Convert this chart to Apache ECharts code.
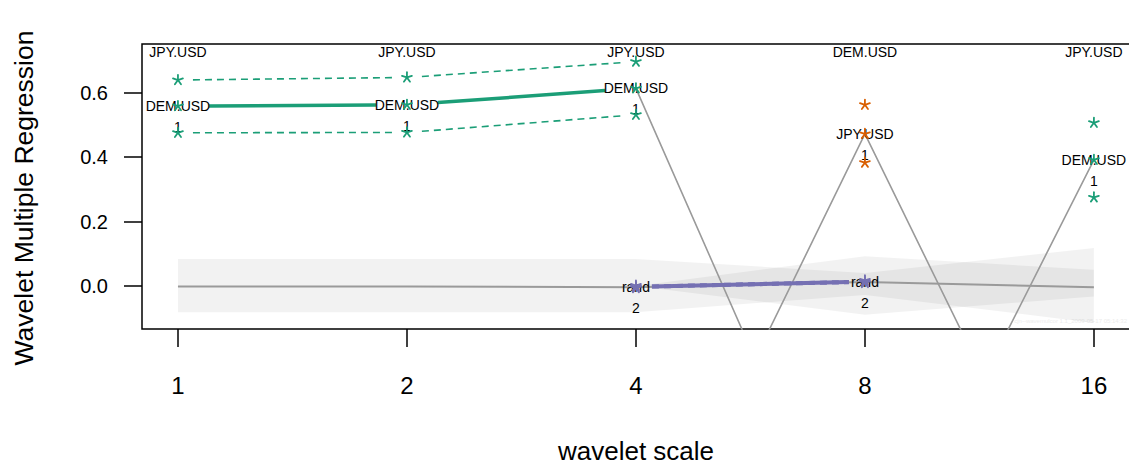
<!DOCTYPE html>
<html>
<head>
<meta charset="utf-8">
<script src="https://cdn.jsdelivr.net/npm/echarts@6/dist/echarts.min.js"></script>
<style>
html,body{margin:0;padding:0;background:#fff;}
#chart{width:1129px;height:465px;}
</style>
</head>
<body>
<div id="chart"></div>
<script>
// ---------- data ----------
const scales = [1, 2, 4, 8, 16];
const scaleLabels = ['1', '2', '4', '8', '16'];
const yTicks = [0, 0.2, 0.4, 0.6];
const xTitle = 'wavelet scale';
const yTitle = 'Wavelet Multiple Regression';

// top-of-plot labels per level
const topNames = ['JPY.USD', 'JPY.USD', 'JPY.USD', 'DEM.USD', 'JPY.USD'];

// first regressor (largest) per level
const est1Names = ['DEM.USD', 'DEM.USD', 'DEM.USD', 'JPY.USD', 'DEM.USD'];
const est1Rank = ['1', '1', '1', '1', '1'];
const est1 = [0.559, 0.563, 0.614, 0.4725, 0.392];
const upper1 = [0.640, 0.648, 0.697, 0.563, 0.507];
const lower1 = [0.476, 0.477, 0.532, 0.383, 0.275];

// second regressor (levels 4 and 8)
const est2Names = [null, null, 'rand', 'rand', null];
const est2Rank = [null, null, '2', '2', null];
const est2 = [null, null, -0.003, 0.013, null];
const upper2 = [null, null, 0.001, 0.017, null];
const lower2 = [null, null, -0.007, 0.009, null];

// grey reference line and bands
const greyMid = [-0.002, -0.002, -0.004, 0.012, -0.004];
const band1Upper = [0.084, 0.084, 0.084, 0.040, 0.118];
const band1Lower = [-0.082, -0.082, -0.082, -0.028, -0.115];
const band2Levels = [2, 3, 4];
const band2Upper = [0.0, 0.092, 0.05];
const band2Lower = [0.0, -0.09, -0.033];

// grey zig-zag path
const zigX = [2, 2.52, 3, 3.52, 4];
const zigY = [0.614, -0.227, 0.4725, -0.284, 0.392];

const varColors = { 'DEM.USD': '#1B9E77', 'JPY.USD': '#D95F02', 'rand': '#7570B3' };
// -----------------------------------------------

const FONT = "'Liberation Sans', Arial, Helvetica, sans-serif";
const lv = scales.map(s => Math.log2(s));
const Y_MIN = -0.134, Y_MAX = 0.752;

function segments(est, names) {
  const out = [];
  for (let i = 0; i + 1 < est.length; i++) {
    if (est[i] != null && est[i + 1] != null && names[i] === names[i + 1]) {
      out.push({ value: [lv[i], est[i], lv[i + 1], est[i + 1]], name: names[i] });
    }
  }
  return out;
}

function gapSeries(data, width, gap, dash, z) {
  return {
    type: 'custom', silent: true, z: z,
    encode: { x: [0, 2], y: [1, 3] },
    data: data,
    renderItem: function (params, api) {
      const a = api.coord([api.value(0), api.value(1)]);
      const b = api.coord([api.value(2), api.value(3)]);
      const dx = b[0] - a[0], dy = b[1] - a[1];
      const L = Math.sqrt(dx * dx + dy * dy);
      const ux = dx / L, uy = dy / L;
      const nm = data[params.dataIndex].name;
      return {
        type: 'line',
        shape: { x1: a[0] + ux * gap, y1: a[1] + uy * gap, x2: b[0] - ux * gap, y2: b[1] - uy * gap },
        style: { stroke: varColors[nm], lineWidth: width, lineDash: dash || null, lineCap: 'butt' }
      };
    }
  };
}

function starData() {
  const d = [];
  for (let i = 0; i < lv.length; i++) {
    [upper1[i], est1[i], lower1[i]].forEach(v => d.push({ value: [lv[i], v], c: varColors[est1Names[i]] }));
    if (est2[i] != null) {
      [upper2[i], est2[i], lower2[i]].forEach(v => d.push({ value: [lv[i], v], c: varColors[est2Names[i]] }));
    }
  }
  return d;
}
const stars = starData();
const ARMS = [-90, -18, 54, 126, 198].map(a => a * Math.PI / 180);

function bandSeries(levels, up, lo, z) {
  return {
    type: 'custom', silent: true, z: z,
    data: [[levels[0], up[0]]],
    renderItem: function (params, api) {
      const pts = [];
      for (let i = 0; i < levels.length; i++) pts.push(api.coord([levels[i], up[i]]));
      for (let i = levels.length - 1; i >= 0; i--) pts.push(api.coord([levels[i], lo[i]]));
      return { type: 'polygon', shape: { points: pts }, style: { fill: 'rgba(0,0,0,0.05)', stroke: null } };
    }
  };
}

const labelData = [];
for (let i = 0; i < lv.length; i++) {
  labelData.push({ value: [lv[i], est1[i]], name: est1Names[i], rank: est1Rank[i] });
  if (est2[i] != null) labelData.push({ value: [lv[i], est2[i]], name: est2Names[i], rank: est2Rank[i] });
}

const chart = echarts.init(document.getElementById('chart'), null, { renderer: 'svg' });
chart.setOption({
  animation: false,
  backgroundColor: '#fff',
  grid: { left: 142, top: 44, width: 989, height: 285, show: true, borderColor: '#000', borderWidth: 1.5,
    backgroundColor: 'transparent', containLabel: false, outerBoundsMode: 'none' },
  xAxis: {
    type: 'value', min: -0.157, max: 4.162,
    axisLine: { show: false, onZero: false },
    splitLine: { show: false },
    axisTick: { show: true, length: 18, lineStyle: { color: '#000', width: 1.5 }, customValues: lv },
    axisLabel: { fontSize: 24, fontFamily: FONT, color: '#000', margin: 44, customValues: lv,
      formatter: function (v) { const k = lv.indexOf(v); return k >= 0 ? scaleLabels[k] : ''; } }
  },
  yAxis: {
    type: 'value', min: Y_MIN, max: Y_MAX,
    axisLine: { show: false, onZero: false },
    splitLine: { show: false },
    axisTick: { show: true, length: 18, lineStyle: { color: '#000', width: 1.5 }, customValues: yTicks },
    axisLabel: { fontSize: 20, fontFamily: FONT, color: '#000', margin: 34, customValues: yTicks,
      formatter: function (v) { return v.toFixed(1); } }
  },
  graphic: [
    {
      type: 'text', x: 636, y: 451, silent: true,
      style: { text: xTitle, fontSize: 26, fontFamily: FONT, fill: '#000', align: 'center', verticalAlign: 'middle' }
    },
    {
      type: 'text', x: 24, y: 198, rotation: Math.PI / 2, silent: true,
      style: { text: yTitle, fontSize: 26.5, fontFamily: FONT, fill: '#000', align: 'center', verticalAlign: 'middle' }
    },
    {
      type: 'text', right: 2, top: 318, silent: true,
      style: { text: 'cjn--wavemulcor 1.1_2009-05-17 05:14:32', fontSize: 6, fontFamily: FONT, fill: '#ececec' }
    }
  ],
  series: [
    bandSeries(lv, band1Upper, band1Lower, 1),
    bandSeries(band2Levels, band2Upper, band2Lower, 1),
    {
      type: 'line', silent: true, z: 2, symbol: 'none', clip: true,
      data: lv.map((x, i) => [x, greyMid[i]]),
      lineStyle: { color: '#9a9a9a', width: 2 }
    },
    {
      type: 'line', silent: true, z: 2, symbol: 'none', clip: true,
      data: zigX.map((x, i) => [x, zigY[i]]),
      lineStyle: { color: '#9a9a9a', width: 1.6 }
    },
    gapSeries(segments(upper1, est1Names), 1.6, 15, [7, 5], 3),
    gapSeries(segments(lower1, est1Names), 1.6, 15, [7, 5], 3),
    gapSeries(segments(est1, est1Names), 3.5, 31, null, 3),
    gapSeries(segments(upper2, est2Names), 1.6, 16, [7, 5], 3),
    gapSeries(segments(lower2, est2Names), 1.6, 16, [7, 5], 3),
    gapSeries(segments(est2, est2Names), 4, 16, null, 3),
    {
      type: 'custom', silent: true, z: 5,
      data: stars,
      renderItem: function (params, api) {
        const p = api.coord([api.value(0), api.value(1)]);
        const c = stars[params.dataIndex].c;
        const r = 5.2;
        return {
          type: 'group',
          children: ARMS.map(a => ({
            type: 'line',
            shape: { x1: p[0], y1: p[1], x2: p[0] + r * Math.cos(a), y2: p[1] + r * Math.sin(a) },
            style: { stroke: c, lineWidth: 1.8, lineCap: 'round' }
          }))
        };
      }
    },
    {
      type: 'custom', silent: true, z: 4,
      data: labelData,
      renderItem: function (params, api) {
        const p = api.coord([api.value(0), api.value(1)]);
        const it = labelData[params.dataIndex];
        const st = { fontSize: 14, fontFamily: FONT, fill: '#000', align: 'center', verticalAlign: 'middle' };
        return {
          type: 'group',
          children: [
            { type: 'text', x: p[0], y: p[1], style: Object.assign({ text: it.name }, st) },
            { type: 'text', x: p[0], y: p[1] + 21, style: Object.assign({ text: it.rank }, st) }
          ]
        };
      }
    },
    {
      type: 'custom', silent: true, z: 4,
      data: lv.map(x => [x, Y_MAX]),
      renderItem: function (params, api) {
        const p = api.coord([api.value(0), api.value(1)]);
        return {
          type: 'text', x: p[0], y: p[1] + 1,
          style: { text: topNames[params.dataIndex], fontSize: 14, fontFamily: FONT, fill: '#000', align: 'center', verticalAlign: 'top' }
        };
      }
    }
  ]
});
</script>
</body>
</html>
